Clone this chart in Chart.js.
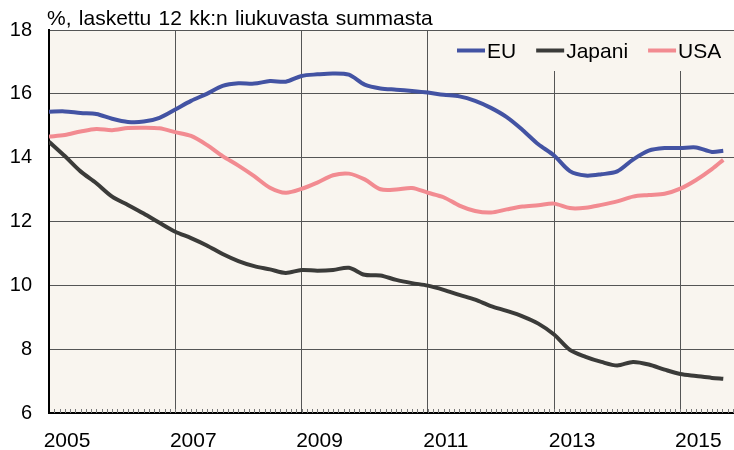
<!DOCTYPE html>
<html lang="fi">
<head>
<meta charset="utf-8">
<title>Korot</title>
<script src="https://cdn.jsdelivr.net/npm/chart.js@4.4.1/dist/chart.umd.min.js"></script>
<style>
    html, body { margin: 0; padding: 0; background: #fff; }
</style>
</head>
<body>
<canvas id="korkoChart" width="734" height="450"></canvas>
<script>
// aineisto luettu kuvasta (neljännesvuosittain)
const otsikko = '%, laskettu 12 kk:n liukuvasta summasta';
const ajankohdat = [2005.00, 2005.25, 2005.50, 2005.75, 2006.00, 2006.25, 2006.50, 2006.75,
    2007.00, 2007.25, 2007.50, 2007.75, 2008.00, 2008.25, 2008.50, 2008.75,
    2009.00, 2009.25, 2009.50, 2009.75, 2010.00, 2010.25, 2010.50, 2010.75,
    2011.00, 2011.25, 2011.50, 2011.75, 2012.00, 2012.25, 2012.50, 2012.75,
    2013.00, 2013.25, 2013.50, 2013.75, 2014.00, 2014.25, 2014.50, 2014.75,
    2015.00, 2015.25, 2015.50, 2015.68];
const eu = [15.44, 15.45, 15.40, 15.37, 15.22, 15.12, 15.13, 15.25,
    15.51, 15.78, 16.00, 16.25, 16.33, 16.32, 16.40, 16.38,
    16.56, 16.61, 16.64, 16.60, 16.29, 16.17, 16.13, 16.09,
    16.04, 15.97, 15.92, 15.78, 15.56, 15.27, 14.87, 14.42,
    14.07, 13.58, 13.44, 13.48, 13.57, 13.94, 14.22, 14.30,
    14.30, 14.32, 14.18, 14.22];
const japani = [14.50, 14.05, 13.57, 13.20, 12.78, 12.52, 12.25, 11.96,
    11.68, 11.48, 11.25, 10.98, 10.76, 10.60, 10.50, 10.39,
    10.48, 10.46, 10.48, 10.55, 10.33, 10.31, 10.17, 10.07,
    9.99, 9.86, 9.70, 9.55, 9.35, 9.20, 9.03, 8.80,
    8.46, 7.98, 7.76, 7.60, 7.49, 7.60, 7.52, 7.36,
    7.22, 7.16, 7.10, 7.07];
const usa = [14.66, 14.71, 14.82, 14.90, 14.86, 14.93, 14.94, 14.92,
    14.80, 14.68, 14.40, 14.05, 13.75, 13.42, 13.06, 12.90,
    13.02, 13.22, 13.45, 13.50, 13.32, 13.01, 13.00, 13.05,
    12.90, 12.76, 12.50, 12.33, 12.28, 12.38, 12.47, 12.51,
    12.56, 12.42, 12.43, 12.52, 12.63, 12.78, 12.83, 12.87,
    13.03, 13.30, 13.64, 13.93];
const vuosiTikit = [2005, 2007, 2009, 2011, 2013, 2015];
const yTikit = [6, 8, 10, 12, 14, 16, 18];

const FONTTI = '"Liberation Sans", Arial, sans-serif';
const TAUSTA = '#f9f5ef';

function pisteet(arvot) {
    return arvot.map((v, i) => ({ x: ajankohdat[i], y: v }));
}

// taustaväri, selitteen pohja, otsikko, selite ja kuukausimerkit
const koristeet = {
    id: 'koristeet',
    beforeDraw(chart) {
        const { ctx, chartArea: a } = chart;
        ctx.save();
        ctx.fillStyle = TAUSTA;
        ctx.fillRect(a.left, a.top, a.right - a.left, a.bottom - a.top);
        ctx.restore();
    },
    beforeDatasetsDraw(chart) {
        const { ctx, chartArea: a } = chart;
        ctx.save();
        ctx.fillStyle = TAUSTA;
        ctx.fillRect(445, a.top + 1, a.right - 445, 40);
        ctx.restore();
    },
    afterDraw(chart) {
        const { ctx, chartArea: a, scales } = chart;
        ctx.save();

        // otsikko
        ctx.fillStyle = '#000';
        ctx.font = '21px ' + FONTTI;
        ctx.textAlign = 'left';
        ctx.textBaseline = 'alphabetic';
        if ('wordSpacing' in ctx) ctx.wordSpacing = '1.5px';
        ctx.fillText(otsikko, 47, 25);
        if ('wordSpacing' in ctx) ctx.wordSpacing = '0px';

        // selite
        let x = 457;
        chart.data.datasets.forEach(ds => {
            ctx.strokeStyle = ds.borderColor;
            ctx.lineWidth = 4;
            ctx.beginPath();
            ctx.moveTo(x, 50.5);
            ctx.lineTo(x + 28, 50.5);
            ctx.stroke();
            ctx.fillStyle = '#000';
            ctx.fillText(ds.label, x + 30, 57.5);
            x += 30 + ctx.measureText(ds.label).width + 20;
        });

        // kuukausimerkit x-akselilla
        const xs = scales.x;
        ctx.strokeStyle = '#777';
        ctx.lineWidth = 1;
        for (let k = 1; k <= 130; k++) {
            const px = Math.round(xs.getPixelForValue(2005 + k / 12)) + 0.5;
            if (px >= a.right) break;
            ctx.beginPath();
            ctx.moveTo(px, a.bottom - 4);
            ctx.lineTo(px, a.bottom);
            ctx.stroke();
        }
        ctx.restore();
    }
};

Chart.defaults.font.family = FONTTI;
Chart.defaults.color = '#000';

new Chart(document.getElementById('korkoChart').getContext('2d'), {
    type: 'line',
    data: {
        datasets: [
            { label: 'EU', data: pisteet(eu), borderColor: '#4353a3' },
            { label: 'Japani', data: pisteet(japani), borderColor: '#3b3b39' },
            { label: 'USA', data: pisteet(usa), borderColor: '#f28b91' }
        ]
    },
    options: {
        responsive: false,
        animation: false,
        layout: { padding: { top: 30, left: 0, right: 0, bottom: 0 } },
        elements: {
            line: { borderWidth: 4, tension: 0.3, borderJoinStyle: 'round', fill: false },
            point: { radius: 0, hoverRadius: 0 }
        },
        plugins: {
            legend: { display: false },
            tooltip: { enabled: false },
            title: { display: false }
        },
        scales: {
            x: {
                type: 'linear',
                min: 2005,
                max: 2015.85,
                afterFit: (s) => { s.height = 37; },
                afterBuildTicks: (s) => { s.ticks = vuosiTikit.map(v => ({ value: v })); },
                grid: { color: '#555', lineWidth: 1, drawTicks: false },
                border: { color: '#000', width: 2 },
                ticks: {
                    font: { size: 21 },
                    padding: 16,
                    labelOffset: 18,
                    maxRotation: 0,
                    autoSkip: false,
                    callback: (v) => String(v)
                }
            },
            y: {
                min: 6,
                max: 18,
                afterFit: (s) => { s.width = 49; },
                afterBuildTicks: (s) => { s.ticks = yTikit.map(v => ({ value: v })); },
                grid: { color: '#555', lineWidth: 1, drawTicks: false },
                border: { color: '#000', width: 2 },
                ticks: { font: { size: 20 }, padding: 17 }
            }
        }
    },
    plugins: [koristeet]
});
</script>
</body>
</html>
